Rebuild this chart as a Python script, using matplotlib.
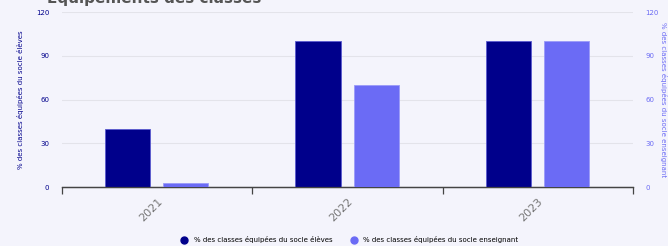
import numpy as np
import matplotlib.pyplot as plt

years = ['2021', '2022', '2023']
eleves = [40, 100, 100]
enseignant = [3, 70, 100]
y_ticks = [0, 30, 60, 90, 120]

dark = '#00008B'
light = '#6B6BF5'
bg = '#F4F4FC'

fig = plt.figure(figsize=(6.68, 2.46), dpi=100)
fig.patch.set_facecolor(bg)
ax = fig.add_axes([0.0928, 0.2398, 0.855, 0.711])
ax.set_facecolor(bg)
ax2 = ax.twinx()

x = np.arange(len(years))
w = 0.237
ax.bar(x - 0.155, eleves, w, color=dark, edgecolor='#5a5ad0', linewidth=0.6, zorder=3)
ax2.bar(x + 0.15, enseignant, w, color=light, edgecolor='#9a9af8', linewidth=0.6, zorder=3)

for a in (ax, ax2):
    a.set_ylim(0, 120)
    a.set_yticks(y_ticks)
    a.set_xlim(-0.5, len(years) - 0.5)
    for s in ('top', 'left', 'right'):
        a.spines[s].set_visible(False)
    a.spines['bottom'].set_color('#444444')
    a.spines['bottom'].set_linewidth(0.9)

ax.grid(axis='y', color='#e3e3ea', linewidth=0.8, zorder=0)
ax.set_axisbelow(True)
ax.tick_params(axis='y', length=0, labelsize=5, labelcolor=dark, pad=9)
ax2.tick_params(axis='y', length=0, labelsize=5, labelcolor=light, pad=9)

ax.set_xticks(x)
ax.set_xticklabels(years, rotation=45, fontsize=8, color='#777777',
                   ha='right', rotation_mode='anchor')
ax.tick_params(axis='x', length=0, pad=7)
ax.set_xticks(np.arange(-0.5, len(years)), minor=True)
ax.tick_params(axis='x', which='minor', length=5, color='#444444', width=0.9)

ax.set_ylabel('% des classes équipées du socle élèves', fontsize=5, color=dark, labelpad=9)
ax2.set_ylabel('% des classes équipées du socle enseignant', fontsize=5, color=light,
               rotation=270, labelpad=6)

# title sits partly above the top edge, as in the original screenshot
fig.text(0.07, 1.05, 'Équipements des classes', fontsize=11, fontweight='bold',
         color='#555555', va='top', clip_on=False)

h1 = plt.Line2D([], [], marker='o', linestyle='', color=dark, markersize=5)
h2 = plt.Line2D([], [], marker='o', linestyle='', color=light, markersize=5)
fig.legend([h1, h2], ['% des classes équipées du socle élèves',
                      '% des classes équipées du socle enseignant'],
           loc='lower center', bbox_to_anchor=(0.521, -0.015), ncol=2, frameon=False,
           fontsize=5, handletextpad=0.4, columnspacing=2.0)

fig.savefig('out.png', dpi=100, facecolor=bg)
